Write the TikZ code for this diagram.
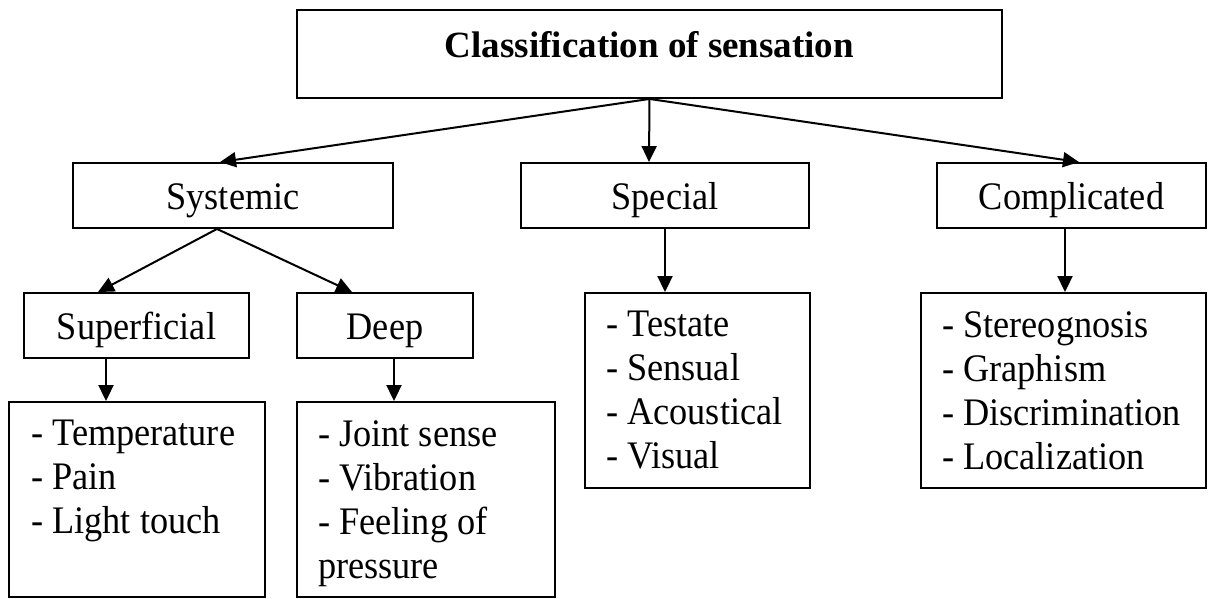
\documentclass[tikz,border=0pt]{standalone}
\usepackage{fontspec}
\setmainfont{Liberation Serif}
\newfontfamily\tallserif{Liberation Serif}[FakeStretch=0.93]
\usetikzlibrary{arrows.meta}
\begin{document}
\begin{tikzpicture}[x=1pt,y=-1pt,
  bodyfont/.style={font=\tallserif\fontsize{39}{44}\selectfont},
  box/.style={draw, line width=1.9pt, inner sep=0pt, bodyfont},
  onebox/.style={box, minimum height=65pt, text height=46.5pt, text depth=18.5pt},
  listbox/.style={box, minimum height=195pt},
  arr/.style={line width=2pt, -{Triangle[length=16pt,width=15pt]}},
  items/.style={anchor=north west, align=left, inner sep=0pt, bodyfont}]
\useasboundingbox (0,0) rectangle (1208,598);
% root
\node[box, minimum width=705pt, minimum height=88pt, text height=47pt, text depth=41pt,
      font=\fontsize{37}{44}\selectfont\bfseries] (title) at (649.5,54) {Classification of sensation};
% second level
\node[onebox, minimum width=320pt] (sys) at (233,195.5) {Systemic};
\node[onebox, minimum width=288pt] (spec) at (665,195.5) {Special};
\node[onebox, minimum width=269pt] (comp) at (1071.5,195.5) {Complicated};
% third level
\node[onebox, minimum width=225pt] (sup) at (136.5,325.5) {Superficial};
\node[onebox, minimum width=176pt] (deep) at (385,325.5) {Deep};
% list boxes
\node[listbox, minimum width=256pt] (temp) at (137,499.5) {};
\node[listbox, minimum width=258pt] (joint) at (426,499.5) {};
\node[listbox, minimum width=225pt] (test) at (697.5,390.5) {};
\node[listbox, minimum width=285pt] (stereo) at (1063.5,390.5) {};
\node[items] (tempT) at (31,420) {- Temperature\\- Pain\\- Light touch};
\node[items] (jointT) at (318,420) {- Joint sense\\- Vibration\\- Feeling of\\pressure};
\node[items] (testT) at (606,311) {- Testate\\- Sensual\\- Acoustical\\- Visual};
\node[items] (stereoT) at (942,311) {- Stereognosis\\- Graphism\\- Discrimination\\- Localization};
% connectors
\draw[arr] (title.south) -- ([xshift=-13pt]sys.north);
\draw[arr] (title.south) -- ([xshift=-16pt]spec.north);
\draw[arr] (title.south) -- ([xshift=7.5pt]comp.north);
\draw[arr] ([xshift=-16pt]sys.south) -- ([xshift=-38.5pt]sup.north);
\draw[arr] ([xshift=-16pt]sys.south) -- ([xshift=-33pt]deep.north);
\draw[arr] ([xshift=-30.5pt]sup.south) -- ([xshift=-31pt]temp.north);
\draw[arr] ([xshift=9pt]deep.south) -- ([xshift=-32pt]joint.north);
\draw[arr] (spec.south) -- ([xshift=-32.5pt]test.north);
\draw[arr] ([xshift=-6.5pt]comp.south) -- ([xshift=1.5pt]stereo.north);
\end{tikzpicture}
\end{document}
